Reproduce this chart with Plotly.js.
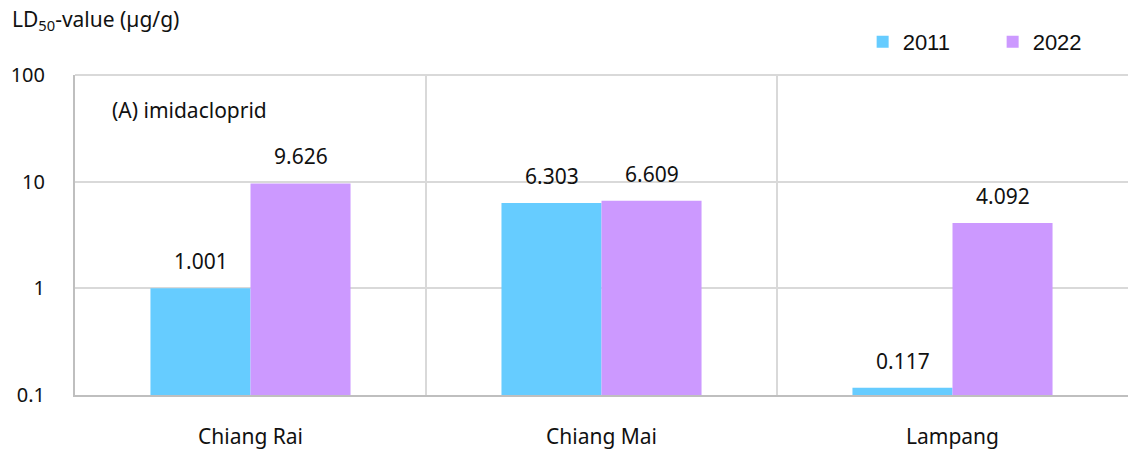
<!DOCTYPE html>
<html>
<head>
<meta charset="utf-8">
<script src="https://cdn.plot.ly/plotly-3.0.1.min.js"></script>
<style>
  html, body { margin: 0; padding: 0; background: #fff; }
  #chart { width: 1128px; height: 450px; }
</style>
</head>
<body>
<div id="chart"></div>
<script>
// LD50 of imidacloprid by province, two survey years
const provinces = ['Chiang Rai', 'Chiang Mai', 'Lampang'];
const years = ['2011', '2022'];
const ld50_2011 = [1.001, 6.303, 0.117];
const ld50_2022 = [9.626, 6.609, 4.092];
const seriesColors = ['#66CCFF', '#CC99FF'];

const FONT = 'Noto Sans, sans-serif';
const series = [ld50_2011, ld50_2022];

const traces = series.map((vals, i) => ({
  type: 'bar',
  name: years[i],
  x: provinces,
  y: vals,
  marker: { color: seriesColors[i], line: { width: 0 } },
  hoverinfo: 'x+y+name'
}));

// value labels sit above each bar, shifted to its half of the group
const valueLabels = [];
series.forEach((vals, i) => {
  vals.forEach((v, j) => {
    valueLabels.push({
      x: provinces[j], y: Math.log10(v), xref: 'x', yref: 'y',
      text: v.toFixed(3), showarrow: false,
      xshift: i === 0 ? -50 : 50, yshift: 27,
      font: { family: FONT, size: 21, color: '#111' }
    });
  });
});

const dividers = [0.5, 1.5].map(xv => ({
  type: 'line', xref: 'x', yref: 'paper', x0: xv, x1: xv, y0: 0, y1: 1,
  line: { color: '#d9d9d9', width: 2 }, layer: 'below'
}));

const layout = {
  width: 1128, height: 450,
  margin: { l: 75, r: 0, t: 75, b: 55, autoexpand: false },
  paper_bgcolor: '#fff', plot_bgcolor: '#fff',
  font: { family: FONT, size: 21, color: '#111' },
  barmode: 'group',
  bargap: 0.43, bargroupgap: 0,
  showlegend: true,
  legend: {
    orientation: 'h', x: 0.748, y: 1.103, xanchor: 'left', yanchor: 'middle',
    font: { family: 'Liberation Sans, Arial, sans-serif', size: 22, color: '#111' },
    entrywidth: 85, entrywidthmode: 'pixels', traceorder: 'normal'
  },
  xaxis: {
    type: 'category', range: [-0.5, 2.5],
    showgrid: false, zeroline: false,
    showline: true, linecolor: '#bfbfbf', linewidth: 2,
    ticks: '', ticklabelstandoff: 22,
    tickfont: { family: FONT, size: 21, color: '#111' }
  },
  yaxis: {
    type: 'log', range: [-1, 2],
    tickvals: [0.1, 1, 10, 100], ticktext: ['0.1', '1', '10', '100'],
    showgrid: true, gridcolor: '#d9d9d9', gridwidth: 2,
    showline: true, linecolor: '#bfbfbf', linewidth: 2, mirror: false,
    ticks: '', ticklabelstandoff: 24,
    tickfont: { family: FONT, size: 20, color: '#111' }
  },
  shapes: dividers.concat([{
    type: 'line', xref: 'paper', yref: 'paper', x0: 0, x1: 1, y0: 1, y1: 1,
    line: { color: '#d9d9d9', width: 2 }
  }]),
  annotations: valueLabels.concat([
    {
      xref: 'paper', yref: 'paper', x: -0.062, y: 1.172, xanchor: 'left', yanchor: 'middle',
      text: 'LD<sub>50</sub>-value (µg/g)', showarrow: false,
      font: { family: FONT, size: 21, color: '#111' }
    },
    {
      xref: 'paper', yref: 'paper', x: 0.033, y: 0.89, xanchor: 'left', yanchor: 'middle',
      text: '(A) imidacloprid', showarrow: false,
      font: { family: FONT, size: 21, color: '#111' }
    }
  ])
};

Plotly.newPlot('chart', traces, layout, { displayModeBar: false, staticPlot: true });
</script>
</body>
</html>
